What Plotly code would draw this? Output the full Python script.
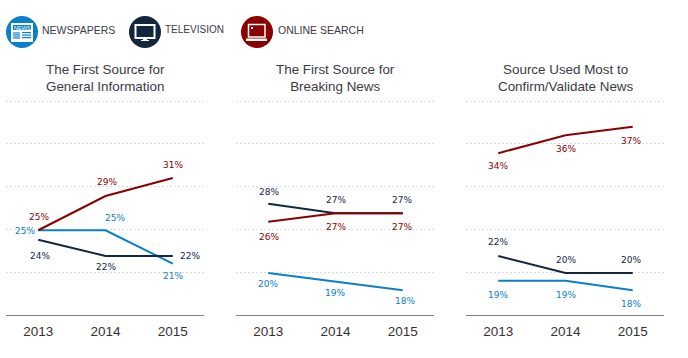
import plotly.graph_objects as go

W, H = 688, 358
years = [2013, 2014, 2015]
titles = ["The First Source for<br>General Information",
          "The First Source for<br>Breaking News",
          "Source Used Most to<br>Confirm/Validate News"]
tick_labels = ["2013", "2014", "2015"]
grid_vals = [20, 25, 30, 35, 40]

newspapers_1 = [24.9, 24.9, 21.0]
television_1 = [23.8, 21.9, 21.9]
search_1 = [24.9, 28.9, 31.0]
newspapers_2 = [19.9, 18.9, 17.9]
television_2 = [28.0, 26.9, 26.9]
search_2 = [25.9, 26.9, 26.9]
newspapers_3 = [19.0, 19.0, 17.9]
television_3 = [21.9, 19.9, 19.9]
search_3 = [33.9, 36.0, 37.0]

labels_news = [[25, 25, 21], [20, 19, 18], [19, 19, 18]]
labels_tv = [[24, 22, 22], [28, 27, 27], [22, 20, 20]]
labels_search = [[25, 29, 31], [26, 27, 27], [34, 36, 37]]

BLUE, NAVY, RED = "#0a80c8", "#12263f", "#8b0000"
panels_px = [(6, 204), (236, 434), (466, 664)]
TOP, BOT = 98, 315
Y_MAX = 15 + 25 * (BOT - TOP) / 214

# label offsets from the point, px (dx, dy downward)
off = {
    (0, "s"): [(1, -13), (1, -14), (0, -13)],
    (0, "n"): [(-13, 1), (9, -12), (0, 12)],
    (0, "t"): [(2, 16), (0, 11), (17, 0)],
    (1, "t"): [(1, -12), (0, -13), (-1, -13)],
    (1, "s"): [(1, 15), (0, 14), (-1, 14)],
    (1, "n"): [(0, 11), (-1, 11), (2, 11)],
    (2, "s"): [(0, 13), (0, 14), (-2, 14)],
    (2, "t"): [(0, -14), (0, -13), (-2, -13)],
    (2, "n"): [(0, 14), (0, 14), (-2, 14)],
}

series = [
    [("n", newspapers_1, labels_news[0], BLUE), ("t", television_1, labels_tv[0], NAVY), ("s", search_1, labels_search[0], RED)],
    [("n", newspapers_2, labels_news[1], BLUE), ("t", television_2, labels_tv[1], NAVY), ("s", search_2, labels_search[1], RED)],
    [("n", newspapers_3, labels_news[2], BLUE), ("t", television_3, labels_tv[2], NAVY), ("s", search_3, labels_search[2], RED)],
]


def px(x):
    return x / W


def py(y):
    return 1 - y / H


fig = go.Figure()
annotations, shapes = [], []
layout = {}
for i, (x0, x1) in enumerate(panels_px):
    n = "" if i == 0 else str(i + 1)
    for key, vals, labs, col in series[i]:
        fig.add_trace(go.Scatter(x=years, y=vals, mode="lines", showlegend=False, hoverinfo="skip",
                                 line=dict(color=col, width=2), xaxis="x" + n, yaxis="y" + n))
        for j in range(3):
            dx, dy = off[(i, key)][j]
            annotations.append(dict(x=years[j], y=vals[j], xref="x" + n, yref="y" + n, text=f"{labs[j]}%",
                                    showarrow=False, xshift=dx, yshift=-dy,
                                    font=dict(family="DejaVu Sans", size=9, color=col)))
    layout["xaxis" + n] = dict(domain=[px(x0), px(x1)], range=[2013 - 32 / 66.7, 2015 + 31 / 66.7],
                               tickvals=years, ticktext=tick_labels, showgrid=False, zeroline=False,
                               showline=True, linecolor="#808080", linewidth=1,
                               ticks="outside", ticklen=4, tickcolor="rgba(0,0,0,0)",
                               anchor="y" + n, fixedrange=True,
                               tickfont=dict(family="Liberation Sans", size=13.5, color="#333333"))
    layout["yaxis" + n] = dict(domain=[py(BOT), py(TOP)], range=[15, Y_MAX], tickvals=grid_vals,
                               showticklabels=False, showgrid=True, gridcolor="#dcdcdc", griddash="2px,2px",
                               gridwidth=1, zeroline=False, anchor="x" + n, fixedrange=True)
    annotations.append(dict(x=px((x0 + x1) / 2), y=py(78), xref="paper", yref="paper", text=titles[i],
                            showarrow=False, align="center", xanchor="center", yanchor="middle",
                            font=dict(family="Liberation Sans", size=13.4, color="#3a3a48")))

# legend
for name, lx, col, cx, fs in [("NEWSPAPERS", 40, BLUE, 22, 10.5), ("TELEVISION", 163, NAVY, 145, 10),
                              ("ONLINE SEARCH", 276, RED, 257, 10.5)]:
    shapes.append(dict(type="circle", xref="paper", yref="paper", x0=px(cx - 16), x1=px(cx + 16),
                       y0=py(48), y1=py(16), fillcolor=col, line=dict(width=0)))
    annotations.append(dict(x=px(lx), y=py(30), xref="paper", yref="paper", text=name, showarrow=False,
                            xanchor="left", yanchor="middle",
                            font=dict(family="Liberation Sans", size=fs, color="#3a3a48")))


def rect(x0, y0, x1, y1, fill, line=None, w=0):
    shapes.append(dict(type="rect", xref="paper", yref="paper", x0=px(x0), x1=px(x1), y0=py(y1), y1=py(y0),
                       fillcolor=fill, line=dict(width=w, color=line or fill)))


# newspaper icon
rect(11, 23, 33, 42, "#ffffff")
rect(13, 25, 31, 30, BLUE)
annotations.append(dict(x=px(22), y=py(27.5), xref="paper", yref="paper", text="NEWS", showarrow=False,
                        xanchor="center", yanchor="middle",
                        font=dict(family="Liberation Sans", size=5.5, color="#ffffff")))
rect(13, 32, 20, 39, "#6fb3e0")
for yy in (32, 34.5, 37):
    rect(22, yy, 31, yy + 1.2, BLUE)
# television icon
rect(135.5, 25, 154.5, 38, NAVY, "#ffffff", 2)
rect(143, 39, 147, 40, "#ffffff")
rect(141, 40, 149, 41, "#ffffff")
# laptop icon
rect(248.5, 24.5, 265, 37, RED, "#ffffff", 1.5)
rect(246, 38.5, 267, 41, "#ffffff")
rect(251, 27, 253, 29, "#ffffff")

fig.update_layout(width=W, height=H, margin=dict(l=0, r=0, t=0, b=0), paper_bgcolor="white",
                  plot_bgcolor="white", annotations=annotations, shapes=shapes, **layout)
fig.write_html("out.html", config={"displayModeBar": False},
               post_script="document.body.style.margin='0';document.documentElement.style.overflow='hidden';")
